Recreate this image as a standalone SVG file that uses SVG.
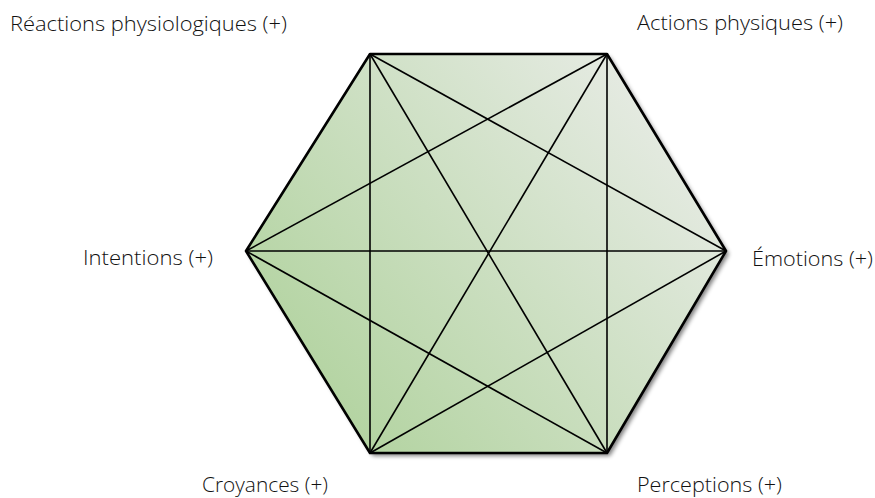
<svg xmlns="http://www.w3.org/2000/svg" width="875" height="498" viewBox="0 0 875 498">
<style>
.lbl{font-family:"Open Sans","Noto Sans","Liberation Sans",sans-serif;font-size:19.5px;fill:#111;font-weight:300}
.edge{fill:none;stroke:#000;stroke-width:2.6;stroke-linejoin:round}
.diag{stroke:#000;stroke-width:1.6}
</style>
<defs>
<linearGradient id="g" x1="246" y1="453" x2="726" y2="54" gradientUnits="userSpaceOnUse">
<stop offset="0" stop-color="#a9cf94"/>
<stop offset="1" stop-color="#efefef"/>
</linearGradient>
<filter id="sh" x="-10%" y="-10%" width="120%" height="120%">
<feGaussianBlur in="SourceAlpha" stdDeviation="2"/>
<feOffset dx="3" dy="3"/>
<feComponentTransfer><feFuncA type="linear" slope="0.5"/></feComponentTransfer>
<feMerge><feMergeNode/><feMergeNode in="SourceGraphic"/></feMerge>
</filter>
</defs>
<g id="hexagon">
<polygon points="370,54 607,54 726,251 607,453 370,453 246,251" fill="url(#g)" filter="url(#sh)"/>
</g>
<g id="connectors">
<line class="diag" x1="370" y1="54" x2="726" y2="251"/>
<line class="diag" x1="370" y1="54" x2="607" y2="453"/>
<line class="diag" x1="370" y1="54" x2="370" y2="453"/>
<line class="diag" x1="607" y1="54" x2="607" y2="453"/>
<line class="diag" x1="607" y1="54" x2="370" y2="453"/>
<line class="diag" x1="607" y1="54" x2="246" y2="251"/>
<line class="diag" x1="726" y1="251" x2="370" y2="453"/>
<line class="diag" x1="726" y1="251" x2="246" y2="251"/>
<line class="diag" x1="607" y1="453" x2="246" y2="251"/>
<polygon class="edge" points="370,54 607,54 726,251 607,453 370,453 246,251"/>
</g>
<g id="node-reactions"><text class="lbl" x="10" y="31" textLength="277" lengthAdjust="spacingAndGlyphs">Réactions physiologiques (+)</text></g>
<g id="node-actions"><text class="lbl" x="637" y="30" textLength="206" lengthAdjust="spacingAndGlyphs">Actions physiques (+)</text></g>
<g id="node-intentions"><text class="lbl" x="83" y="265" textLength="130" lengthAdjust="spacingAndGlyphs">Intentions (+)</text></g>
<g id="node-emotions"><text class="lbl" x="752" y="266" textLength="121" lengthAdjust="spacingAndGlyphs">Émotions (+)</text></g>
<g id="node-croyances"><text class="lbl" x="202" y="492" textLength="126" lengthAdjust="spacingAndGlyphs">Croyances (+)</text></g>
<g id="node-perceptions"><text class="lbl" x="637" y="492" textLength="145" lengthAdjust="spacingAndGlyphs">Perceptions (+)</text></g>
</svg>
